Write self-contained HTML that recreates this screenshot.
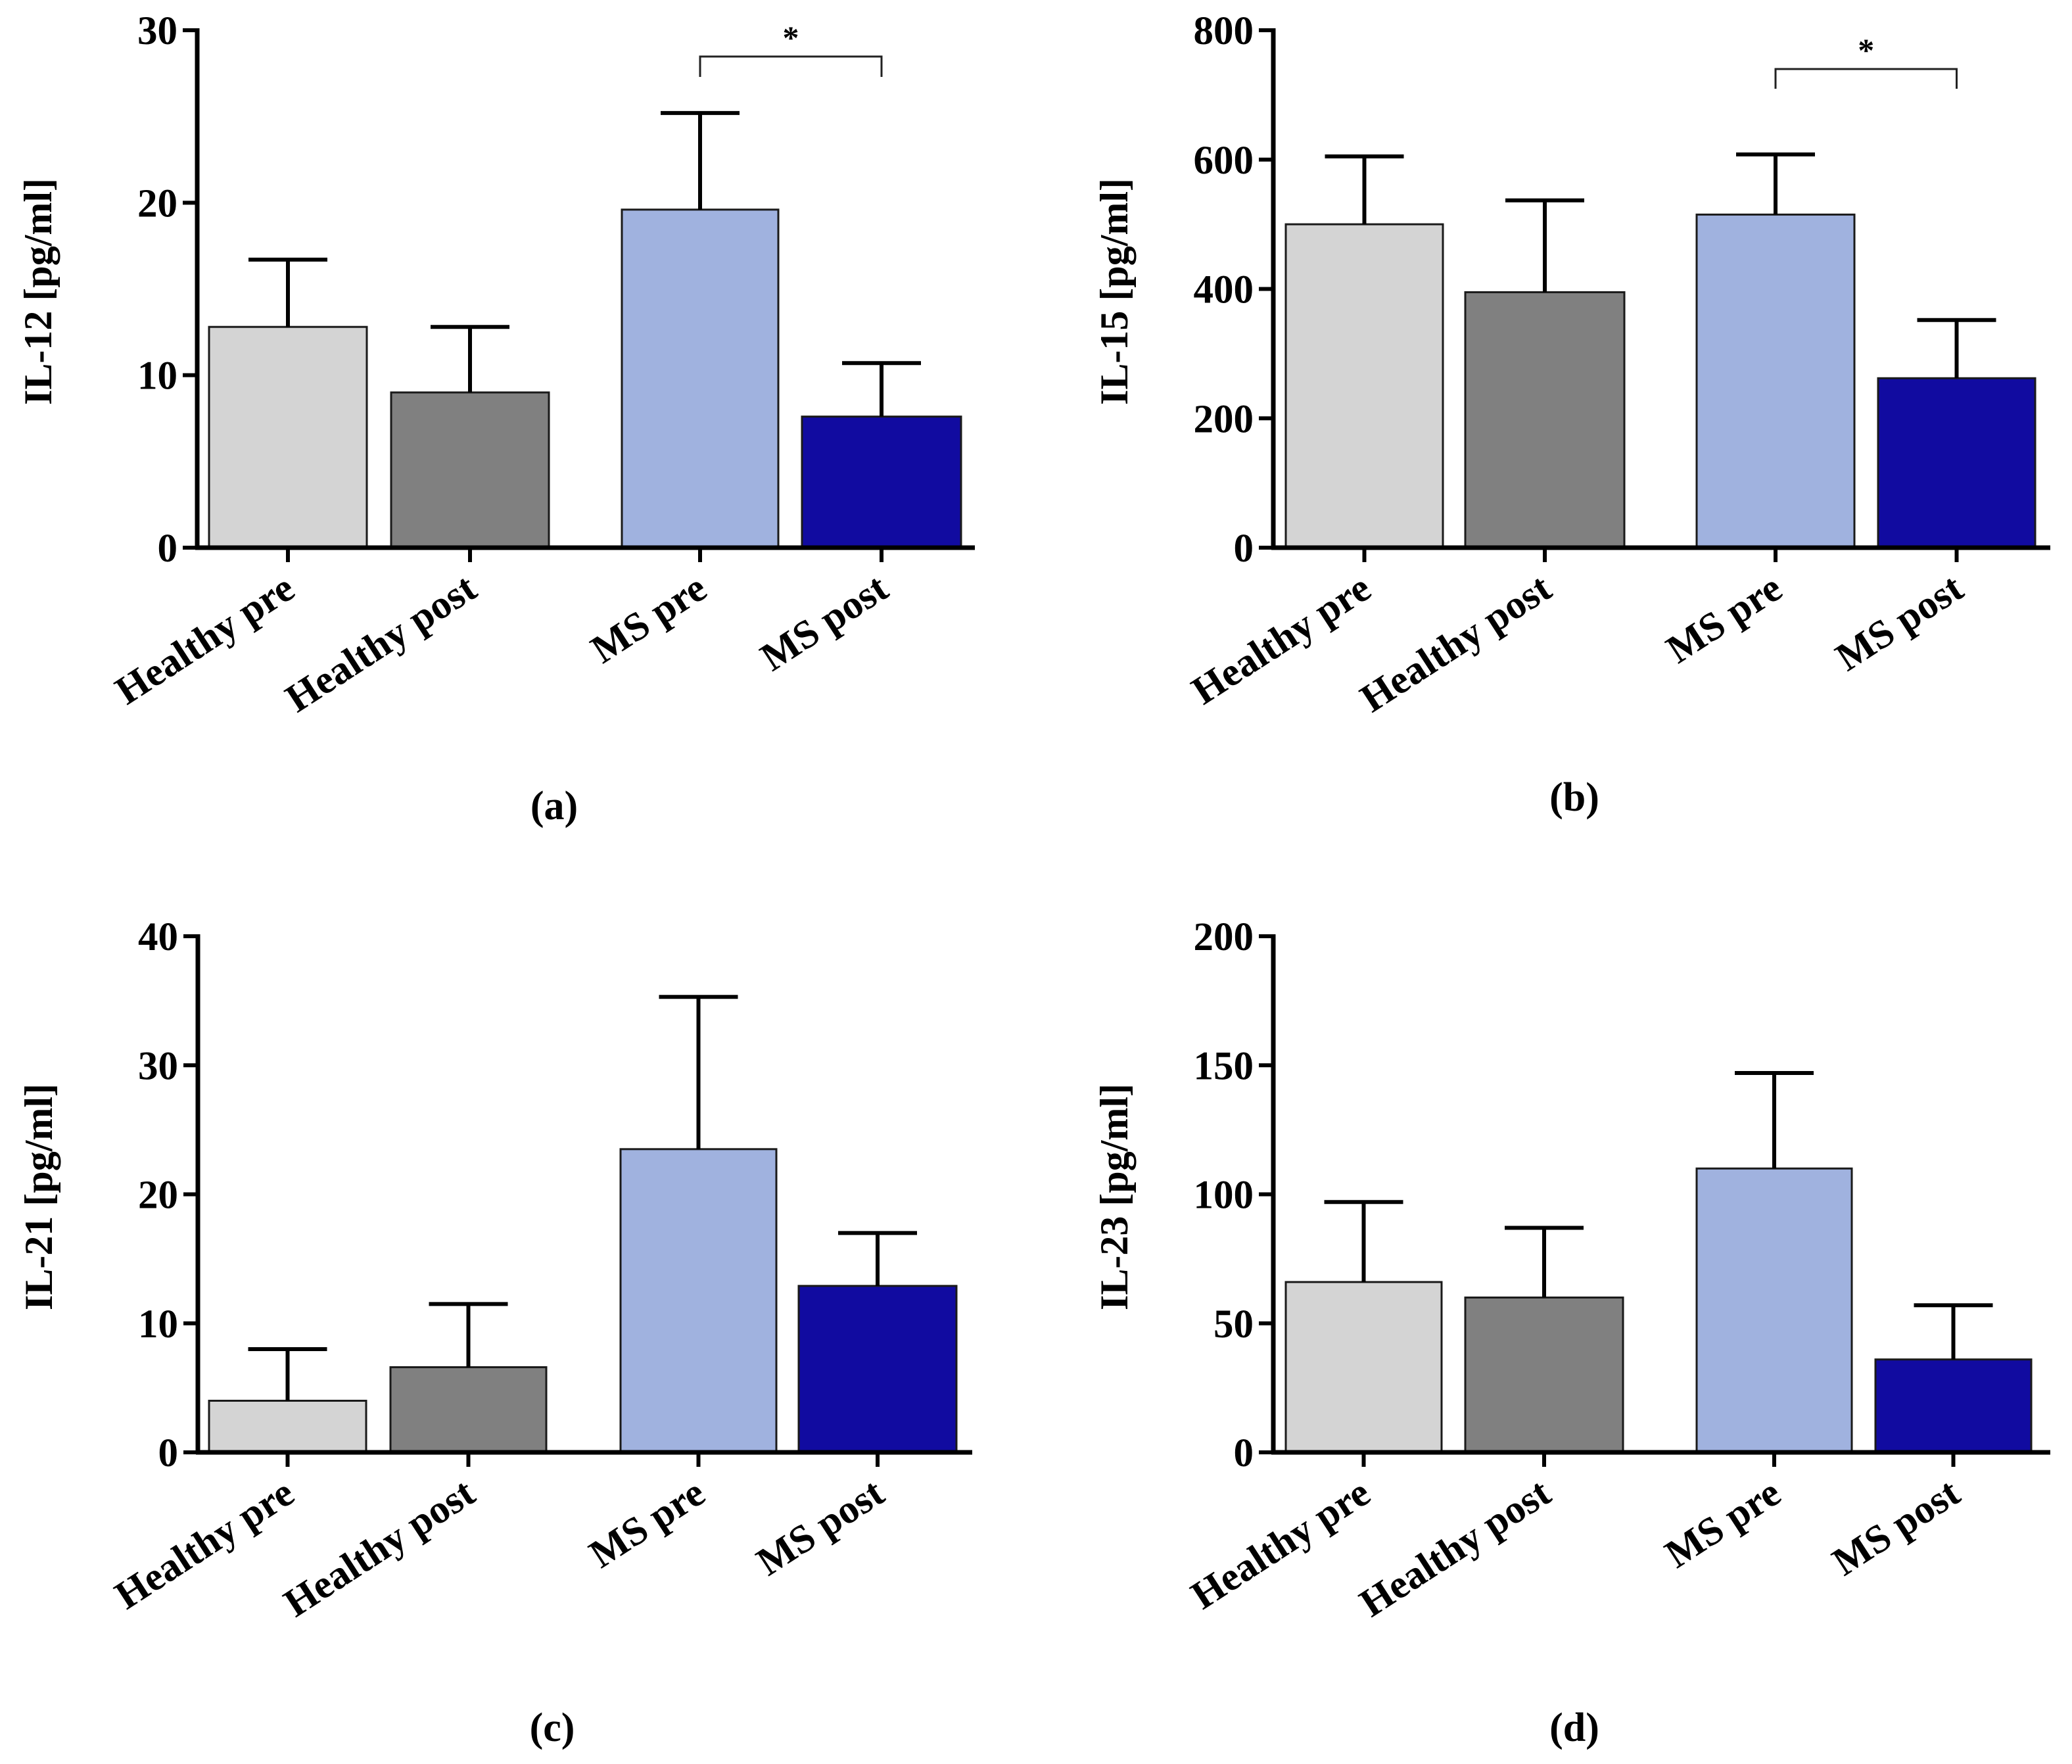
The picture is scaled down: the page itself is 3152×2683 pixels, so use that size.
<!DOCTYPE html>
<html><head><meta charset="utf-8"><style>
html,body{margin:0;padding:0;background:#fff;}
svg{display:block;}
text{font-family:"Liberation Serif",serif;font-weight:bold;fill:#000;}
</style></head>
<body>
<svg id="fig" width="3152" height="2683" viewBox="0 0 3152 2683" xmlns="http://www.w3.org/2000/svg"></svg>
<script>
const categories = ["Healthy pre","Healthy post","MS pre","MS post"];
const il12Means = [12.8, 9.0, 19.6, 7.6];
const il12Errors = [16.7, 12.8, 25.2, 10.7];
const il15Means = [500, 395, 515, 262];
const il15Errors = [605, 537, 608, 352];
const il21Means = [4.0, 6.6, 23.5, 12.9];
const il21Errors = [8.0, 11.5, 35.3, 17.0];
const il23Means = [66, 60, 110, 36];
const il23Errors = [97, 87, 147, 57];
const il12Ticks = [0,10,20,30];
const il15Ticks = [0,200,400,600,800];
const il21Ticks = [0,10,20,30,40];
const il23Ticks = [0,50,100,150,200];
const colors = ["#d4d4d4","#808080","#a0b2df","#110ba0"];

const NS = "http://www.w3.org/2000/svg";
const svg = document.getElementById('fig');
function mk(tag, attrs, parent){
  const e = document.createElementNS(NS, tag);
  for (const k in attrs) e.setAttribute(k, attrs[k]);
  (parent||svg).appendChild(e);
  return e;
}

function panel(id, g){
  const grp = mk('g', {});
  
  
  const ymax = g.ticks[g.ticks.length-1];
  const y = v => g.y0 - (v/ymax)*(g.y0-g.yTop);
  for (let i=0;i<categories.length;i++){
    const x0 = g.bars[i][0], x1 = g.bars[i][1], cx=(x0+x1)/2;
    const r = mk('rect', {x:x0, y:y(g.means[i]), width:x1-x0, height:g.y0-y(g.means[i]), fill:colors[i], stroke:'#1a1a1a', 'stroke-width':3}, grp);
    
    
    const eb = mk('path', {d:`M${cx},${y(g.means[i])}V${y(g.errs[i])}M${cx-60},${y(g.errs[i])}H${cx+60}`, stroke:'#000', 'stroke-width':6, fill:'none'}, grp);
    
    
    const tk = mk('line', {x1:cx, x2:cx, y1:g.y0, y2:g.y0+22, stroke:'#000', 'stroke-width':6}, grp);
    
    
    const lx = cx+14, ly = g.y0+72;
    const t = mk('text', {x:lx, y:ly, 'font-size':61, 'text-anchor':'end', transform:`rotate(-33 ${lx} ${ly})`}, grp);
    t.textContent = categories[i];
    
    
  }
  const ya = mk('line', {x1:g.ax, x2:g.ax, y1:g.yTop-3, y2:g.y0+3, stroke:'#000', 'stroke-width':7}, grp);
  
  
  const xa = mk('line', {x1:g.ax-3, x2:g.axEnd, y1:g.y0, y2:g.y0, stroke:'#000', 'stroke-width':7}, grp);
  
  
  for (const tv of g.ticks){
    const l = mk('line', {x1:g.ax-22, x2:g.ax, y1:y(tv), y2:y(tv), stroke:'#000', 'stroke-width':6}, grp);
    
    
    const t = mk('text', {x:g.ax-30, y:y(tv)+21, 'font-size':61, 'text-anchor':'end'}, grp);
    t.textContent = tv;
    
    
  }
  const tx = g.ax-222, ty = (g.yTop+g.y0)/2 + 4;
  const yt = mk('text', {x:tx, y:ty, 'font-size':60, 'text-anchor':'middle', transform:`rotate(-90 ${tx} ${ty})`}, grp);
  yt.textContent = g.title;
  
  
  const pl = mk('text', {x:g.labelX, y:g.labelY, 'font-size':62, 'text-anchor':'middle'}, grp);
  pl.textContent = '(' + id + ')';
  
  
  if (g.bracket){
    const c2 = (g.bars[2][0]+g.bars[2][1])/2, c3 = (g.bars[3][0]+g.bars[3][1])/2;
    const b = g.bracket;
    const br = mk('path', {d:`M${c2},${b[1]}V${b[0]}H${c3}V${b[1]}`, stroke:'#222', 'stroke-width':3, fill:'none'}, grp);
    
    
    const st = mk('text', {x:(c2+c3)/2, y:b[0]-12, 'font-size':50, 'text-anchor':'middle'}, grp);
    st.textContent = '*';
    
    
  }
}

panel('a', {means:il12Means, errs:il12Errors, ticks:il12Ticks, title:'IL-12 [pg/ml]', ax:300, axEnd:1483, yTop:46, y0:833,
  bars:[[318,558],[595,835],[946,1184],[1220,1462]], labelX:843, labelY:1246, bracket:[86,117]});
panel('b', {means:il15Means, errs:il15Errors, ticks:il15Ticks, title:'IL-15 [pg/ml]', ax:1937, axEnd:3119, yTop:46, y0:833,
  bars:[[1956,2195],[2229,2471],[2581,2821],[2857,3096]], labelX:2395, labelY:1233, bracket:[105,135]});
panel('c', {means:il21Means, errs:il21Errors, ticks:il21Ticks, title:'IL-21 [pg/ml]', ax:301, axEnd:1479, yTop:1424, y0:2209,
  bars:[[318,557],[594,831],[944,1181],[1215,1455]], labelX:840, labelY:2648});
panel('d', {means:il23Means, errs:il23Errors, ticks:il23Ticks, title:'IL-23 [pg/ml]', ax:1937, axEnd:3119, yTop:1424, y0:2209,
  bars:[[1956,2193],[2229,2469],[2581,2817],[2853,3090]], labelX:2395, labelY:2648});
</script>
</body></html>
